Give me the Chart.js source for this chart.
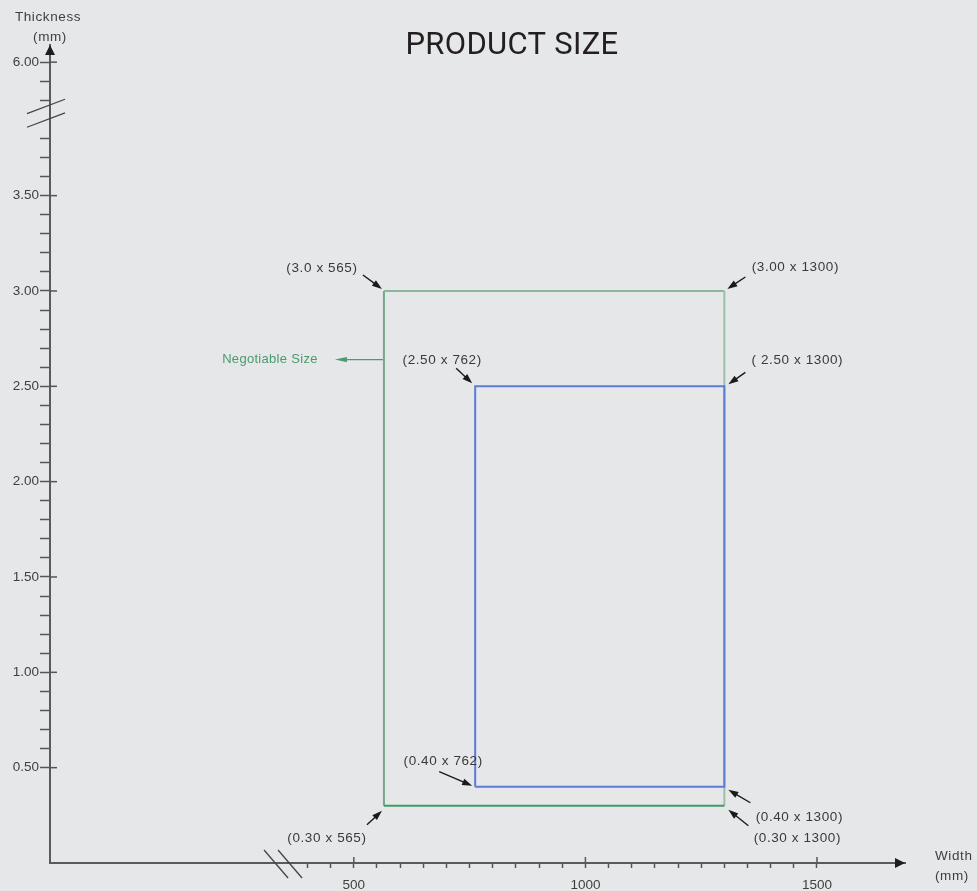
<!DOCTYPE html>
<html>
<head>
<meta charset="utf-8">
<script src="https://cdn.jsdelivr.net/npm/chart.js@4.4.1/dist/chart.umd.min.js"></script>
<style>
  html, body { margin: 0; padding: 0; background: #e6e7e9; }
  #wrap { width: 977px; height: 891px; position: relative; }
</style>
</head>
<body>
<div id="wrap"><canvas id="c" width="977" height="891"></canvas></div>
<script>
// ---- data ----
const chartTitle = 'PRODUCT SIZE';
const xAxisTitle = ['Width', '(mm)'];
const yAxisTitle = ['Thickness', '(mm)'];

// width ticks (mm), minor every 50
const xTickValues = [400, 450, 500, 550, 600, 650, 700, 750, 800, 850, 900, 950, 1000,
  1050, 1100, 1150, 1200, 1250, 1300, 1350, 1400, 1450, 1500];
const xMajorValues = [500, 1000, 1500];
const xMajorLabels = ['500', '1000', '1500'];

// thickness ticks (mm), minor every 0.1, axis broken between 3.9 and 5.7
const yTickValues = [0.5, 0.6, 0.7, 0.8, 0.9, 1.0, 1.1, 1.2, 1.3, 1.4, 1.5, 1.6, 1.7, 1.8, 1.9,
  2.0, 2.1, 2.2, 2.3, 2.4, 2.5, 2.6, 2.7, 2.8, 2.9, 3.0, 3.1, 3.2, 3.3, 3.4, 3.5, 3.6, 3.7, 3.8,
  5.8, 5.9, 6.0];
const yMajorValues = [0.5, 1.0, 1.5, 2.0, 2.5, 3.0, 3.5, 6.0];
const yMajorLabels = ['0.50', '1.00', '1.50', '2.00', '2.50', '3.00', '3.50', '6.00'];
const yBreakGap = 1.8;   // 5.8 sits where 4.0 would be

// negotiable size (outer, green) and standard size (inner, blue)
const negotiableWidth = [565, 1300];
const negotiableThickness = [0.30, 3.00];
const standardWidth = [762, 1300];
const standardThickness = [0.40, 2.50];

// corner callouts
const cornerLabels = ['(3.0 x 565)', '(3.00 x 1300)', '(2.50 x 762)', '( 2.50 x 1300)',
  '(0.40 x 762)', '(0.40 x 1300)', '(0.30 x 1300)', '(0.30 x 565)'];
const cornerWidth = [565, 1300, 762, 1300, 762, 1300, 1300, 565];
const cornerThickness = [3.0, 3.0, 2.5, 2.5, 0.4, 0.4, 0.3, 0.3];
const noteLabel = 'Negotiable Size';
const noteWidth = 565;
const noteThickness = 2.64;

// ---- helpers ----
const toAxis = v => v > 4 ? v - yBreakGap : v;
const fromAxis = v => v > 3.95 ? v + yBreakGap : v;
const near = (a, b) => Math.abs(a - b) < 1e-6;
const rectPoints = (w, t) => [
  { x: w[0], y: toAxis(t[0]) }, { x: w[0], y: toAxis(t[1]) },
  { x: w[1], y: toAxis(t[1]) }, { x: w[1], y: toAxis(t[0]) },
  { x: w[0], y: toAxis(t[0]) }
];

// left, top, right, bottom edge colours of the green box
const outerEdge = ['#73a88a', '#8db69e', '#9cc0aa', '#409b69'];

// callout layout: text centre, arrow tail, arrow tip (px from the corner)
const calloutLayout = [
  { text: [-62, -23], tail: [-21, -16], tip: [-2, -2] },
  { text: [71, -24], tail: [21, -14], tip: [3, -2] },
  { text: [-33, -26], tail: [-19, -18], tip: [-3, -3] },
  { text: [73, -26], tail: [21, -14], tip: [4, -2] },
  { text: [-32, -25], tail: [-36, -15], tip: [-3, -1] },
  { text: [75, 31], tail: [26, 16], tip: [4, 3] },
  { text: [73, 32], tail: [24, 20], tip: [4, 4] },
  { text: [-57, 32], tail: [-17, 19], tip: [-2, 5] }
];

function arrow(ctx, x1, y1, x2, y2, color, len, half) {
  const ang = Math.atan2(y2 - y1, x2 - x1);
  ctx.strokeStyle = color;
  ctx.fillStyle = color;
  ctx.lineWidth = 1.4;
  ctx.beginPath();
  ctx.moveTo(x1, y1);
  ctx.lineTo(x2 - Math.cos(ang) * len * 0.6, y2 - Math.sin(ang) * len * 0.6);
  ctx.stroke();
  ctx.beginPath();
  ctx.moveTo(x2, y2);
  ctx.lineTo(x2 - Math.cos(ang) * len - Math.sin(ang) * half, y2 - Math.sin(ang) * len + Math.cos(ang) * half);
  ctx.lineTo(x2 - Math.cos(ang) * len + Math.sin(ang) * half, y2 - Math.sin(ang) * len - Math.cos(ang) * half);
  ctx.closePath();
  ctx.fill();
}

const decor = {
  id: 'decor',
  beforeDraw(chart) {
    const ctx = chart.ctx;
    ctx.save();
    ctx.fillStyle = '#e6e7e9';
    ctx.fillRect(0, 0, chart.width, chart.height);
    ctx.restore();
  },
  afterDraw(chart) {
    const { ctx, chartArea: a, scales: { x, y } } = chart;
    ctx.save();
    ctx.strokeStyle = '#555';
    ctx.lineWidth = 1.5;
    // major ticks cross the axis
    yMajorValues.forEach(v => {
      const py = y.getPixelForValue(toAxis(v));
      ctx.beginPath(); ctx.moveTo(a.left, py); ctx.lineTo(a.left + 7, py); ctx.stroke();
    });
    xMajorValues.forEach(v => {
      const px = x.getPixelForValue(v);
      ctx.beginPath(); ctx.moveTo(px, a.bottom); ctx.lineTo(px, a.bottom - 6); ctx.stroke();
    });

    // axis breaks
    ctx.strokeStyle = '#444';
    ctx.lineWidth = 1.3;
    const yb = y.getPixelForValue(3.94);
    [-6.8, 6.8].forEach(d => {
      ctx.beginPath();
      ctx.moveTo(a.left - 23, yb + d + 8.7);
      ctx.lineTo(a.left + 15, yb + d - 5.7);
      ctx.stroke();
    });
    const xb = x.getPixelForValue(345);
    [-7, 7].forEach(d => {
      ctx.beginPath();
      ctx.moveTo(xb + d - 11, a.bottom - 13);
      ctx.lineTo(xb + d + 13, a.bottom + 15);
      ctx.stroke();
    });

    // axis arrows
    ctx.fillStyle = '#1e1e1e';
    ctx.beginPath();
    ctx.moveTo(a.left, a.top);
    ctx.lineTo(a.left - 5, a.top + 10);
    ctx.lineTo(a.left + 5, a.top + 10);
    ctx.closePath(); ctx.fill();
    ctx.beginPath();
    ctx.moveTo(a.right, a.bottom);
    ctx.lineTo(a.right - 10, a.bottom - 5);
    ctx.lineTo(a.right - 10, a.bottom + 5);
    ctx.closePath(); ctx.fill();

    // axis titles
    ctx.fillStyle = '#3f3f3f';
    ctx.font = '13.5px "Liberation Sans", Arial, sans-serif';
    ctx.letterSpacing = '0.6px';
    ctx.textBaseline = 'middle';
    ctx.textAlign = 'center';
    ctx.fillText(yAxisTitle[0], a.left - 2, 17);
    ctx.fillText(yAxisTitle[1], a.left, 37);
    ctx.textAlign = 'left';
    ctx.fillText(xAxisTitle[0], a.right + 30, 856);
    ctx.fillText(xAxisTitle[1], a.right + 30, 876);

    // callouts
    cornerLabels.forEach((lab, i) => {
      const cx = x.getPixelForValue(cornerWidth[i]);
      const cy = y.getPixelForValue(toAxis(cornerThickness[i]));
      const L = calloutLayout[i];
      arrow(ctx, cx + L.tail[0], cy + L.tail[1], cx + L.tip[0], cy + L.tip[1], '#1a1a1a', 10, 3.4);
      ctx.fillStyle = '#3a3a3a';
      ctx.textAlign = 'center';
      ctx.fillText(lab, cx + L.text[0], cy + L.text[1]);
    });

    // negotiable size note
    const nx = x.getPixelForValue(noteWidth);
    const ny = y.getPixelForValue(toAxis(noteThickness));
    arrow(ctx, nx - 1, ny, nx - 49, ny, '#4d9b70', 12, 2.6);
    ctx.fillStyle = '#4a9a6d';
    ctx.font = '13px "Liberation Sans", Arial, sans-serif';
    ctx.letterSpacing = '0.3px';
    ctx.textAlign = 'center';
    ctx.fillText(noteLabel, nx - 114, ny);

    // title
    ctx.letterSpacing = '0.3px';
    ctx.fillStyle = '#231f20';
    ctx.font = '400 31px Roboto, sans-serif';
    ctx.textBaseline = 'alphabetic';
    ctx.fillText(chartTitle, 512, 54);
    ctx.restore();
  }
};

new Chart(document.getElementById('c'), {
  type: 'scatter',
  data: {
    datasets: [
      {
        label: 'Standard size',
        data: rectPoints(standardWidth, standardThickness),
        showLine: true, borderColor: '#5b7bd6', borderWidth: 2,
        pointRadius: 0, fill: false, tension: 0
      },
      {
        label: 'Negotiable size',
        data: rectPoints(negotiableWidth, negotiableThickness),
        showLine: true, borderColor: '#73a88a', borderWidth: 2,
        pointRadius: 0, fill: false, tension: 0,
        segment: { borderColor: c => outerEdge[c.p0DataIndex] }
      }
    ]
  },
  options: {
    responsive: false,
    animation: false,
    layout: { padding: { top: 45, right: 72, left: 0, bottom: 0 } },
    plugins: { legend: { display: false }, tooltip: { enabled: false }, title: { display: false } },
    scales: {
      x: {
        type: 'linear', min: -156, max: 1690,
        afterBuildTicks: s => { s.ticks = xTickValues.map(v => ({ value: v })); },
        afterFit: s => { s.height = 28; },
        ticks: {
          autoSkip: false, maxRotation: 0, padding: 9, color: '#3f3f3f',
          font: { family: '"Liberation Sans", Arial, sans-serif', size: 13.5 },
          callback: v => {
            const i = xMajorValues.findIndex(m => near(m, v));
            return i >= 0 ? xMajorLabels[i] : '';
          }
        },
        grid: { drawOnChartArea: false, drawTicks: true, tickLength: 5, tickColor: '#555', tickWidth: 1.5 },
        border: { display: true, color: '#5a5a5a', width: 2 }
      },
      y: {
        type: 'linear', min: 0, max: 4.29,
        afterBuildTicks: s => { s.ticks = yTickValues.map(v => ({ value: toAxis(v) })); },
        afterFit: s => { s.width = 50; },
        ticks: {
          autoSkip: false, padding: 1, color: '#3f3f3f',
          font: { family: '"Liberation Sans", Arial, sans-serif', size: 13.5 },
          callback: v => {
            const i = yMajorValues.findIndex(m => near(m, fromAxis(v)));
            return i >= 0 ? yMajorLabels[i] : '';
          }
        },
        grid: { drawOnChartArea: false, drawTicks: true, tickLength: 10, tickColor: '#555', tickWidth: 1.5 },
        border: { display: true, color: '#5a5a5a', width: 2 }
      }
    }
  },
  plugins: [decor]
});
</script>
</body>
</html>
